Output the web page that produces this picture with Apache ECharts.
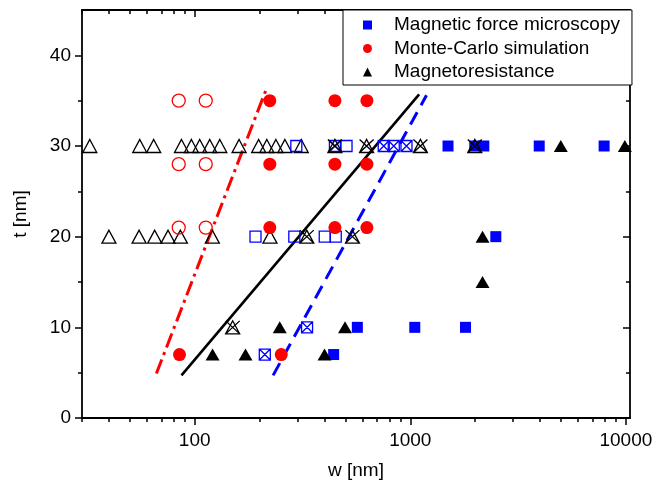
<!DOCTYPE html>
<html><head><meta charset="utf-8">
<script src="https://cdn.jsdelivr.net/npm/echarts@6/dist/echarts.min.js"></script>
<style>html,body{margin:0;padding:0;background:#fff}#c{width:665px;height:490px}</style>
</head><body><div id="c"></div>
<script>
const FONT = '"Liberation Sans", Arial, sans-serif';
const xMajorTicks = [100, 1000, 10000];
const xMinorTicks = [30,40,50,60,70,80,90,200,300,400,500,600,700,800,900,2000,3000,4000,5000,6000,7000,8000,9000];
const yMajorTicks = [0, 10, 20, 30, 40];
const yMinorTicks = [5, 15, 25, 35];

const seriesNames = ['Magnetic force microscopy', 'Monte-Carlo simulation', 'Magnetoresistance'];

const mfmFilled = [[1496,30],[1991,30],[2193,30],[3963,30],[7926,30],[2493,20],[568,10],[1049,10],[1803,10],[441,7]];
const mcFilled = [[223,35],[447,35],[629,35],[223,28],[447,28],[629,28],[223,21],[447,21],[629,21],[85,7],[252,7]];
const mrFilled = [[4990,30],[9890,30],[2163,20],[2163,15],[248,10],[498,10],[121,7],[172,7],[400,7]];
const mrOpen = [[32.6,30],[55.6,30],[64.5,30],[86.8,30],[96.5,30],[105.5,30],[117.4,30],[130.7,30],[160.6,30],[198,30],[216,30],[238,30],[262,30],[312,30],
                [40,20],[55.2,20],[65.2,20],[75.2,20],[85.8,20],[120.7,20],[223.4,20]];
const mcOpen = [[84.3,35],[112.5,35],[84.3,28],[112.5,28],[84.3,21],[112.5,21]];
const mfmOpen = [[296,30],[506,30],[191.4,20],[289.7,20],[401,20],[451,20]];
const mfmCrossed = [[447,30],[753,30],[838,30],[960,30],[332,10],[211.4,7]];
const mrCrossed = [[447,30],[627,30],[1114,30],[1991,30],[331,20],[539,20],[150,10]];
const fitMC = [[66.4,4.9],[215,36.3]];
const fitMR = [[86.8,4.7],[1099,35.7]];
const fitMFM = [[231,4.7],[1189,35.6]];

const X_MIN = 30, X_MAX = 10450, Y_MIN = 0, Y_MAX = 45;
const AX = '#000';
const lbl = { fontSize: 19, color: '#000', fontFamily: FONT };

function xAx(pos, ticks, len, inside, main) {
  return {
    type: 'log', logBase: 10, min: X_MIN, max: X_MAX, position: pos,
    axisLine: { show: !!main, onZero: false, lineStyle: { color: AX, width: 1.8 } },
    axisTick: { show: true, customValues: ticks, length: len, inside: inside, lineStyle: { color: AX, width: 1.5 } },
    axisLabel: (main && pos === 'bottom') ? { show: true, customValues: xMajorTicks, margin: 13, formatter: v => String(Math.round(v)), ...lbl } : { show: false },
    splitLine: { show: false }, minorTick: { show: false },
    ...(main && pos === 'bottom' ? { name: 'w [nm]', nameLocation: 'middle', nameGap: 43, nameTextStyle: lbl } : {})
  };
}
function yAx(pos, ticks, len, inside, main) {
  return {
    type: 'value', min: Y_MIN, max: Y_MAX, position: pos,
    axisLine: { show: !!main, onZero: false, lineStyle: { color: AX, width: 1.8 } },
    axisTick: { show: true, customValues: ticks, length: len, inside: inside, lineStyle: { color: AX, width: 1.5 } },
    axisLabel: (main && pos === 'left') ? { show: true, customValues: yMajorTicks, margin: 11, ...lbl } : { show: false },
    splitLine: { show: false }, minorTick: { show: false },
    ...(main && pos === 'left' ? { name: 't [nm]', nameLocation: 'middle', nameGap: 52, nameRotate: 90, nameTextStyle: lbl } : {})
  };
}

const crossSq = 'path://M0 0L10 0L10 10L0 10Z M0 0L10 10 M10 0L0 10';
const crossTri = 'path://M0 12L7 0L14 12Z M0 0L14 12 M14 0L0 12';

function sc(name, data, symbol, size, style, z) {
  const s = { type: 'scatter', data: data, symbol: symbol, symbolSize: size, itemStyle: Object.assign({ opacity: 1 }, style), z: z || 2, silent: true, animation: false };
  if (name) s.name = name;
  return s;
}
function ln(data, color, width, type) {
  return { type: 'line', data: data, showSymbol: false, symbol: 'none', lineStyle: { color: color, width: width, type: type }, z: 1, silent: true, animation: false };
}

const chart = echarts.init(document.getElementById('c'), null, { renderer: 'canvas' });
chart.setOption({
  animation: false,
  backgroundColor: '#fff',
  grid: { left: 82, right: 35, top: 10, bottom: 72, containLabel: false, outerBoundsMode: 'none' },
  xAxis: [
    xAx('bottom', xMajorTicks, 7, false, true),
    xAx('bottom', xMinorTicks, 4, false, false),
    xAx('top', xMajorTicks, 7, true, true),
    xAx('top', xMinorTicks, 4, true, false)
  ],
  yAxis: [
    yAx('left', yMajorTicks, 7, false, true),
    yAx('left', yMinorTicks, 4, false, false),
    yAx('right', yMajorTicks, 7, true, true),
    yAx('right', yMinorTicks, 4, true, false)
  ],
  legend: {
    data: [
      { name: seriesNames[0], icon: 'rect', itemStyle: { color: '#0000ff', opacity: 1 } },
      { name: seriesNames[1], icon: 'circle', itemStyle: { color: '#ff0000', opacity: 1 } },
      { name: seriesNames[2], icon: 'triangle', itemStyle: { color: '#000000', opacity: 1 } }
    ],
    orient: 'vertical', left: 343, top: 10,
    padding: [5, 12, 3, 20], itemGap: 3.5, itemWidth: 9, itemHeight: 9,
    borderColor: '#000', borderWidth: 1, backgroundColor: '#fff',
    textStyle: { fontSize: 19, color: '#000', fontFamily: FONT, lineHeight: 20, padding: [0, 0, 0, 17] },
    selectedMode: false
  },
  series: [
    ln(fitMC, '#ff0000', 3, [15, 5, 3, 5]),
    ln(fitMR, '#000000', 2.6, 'solid'),
    ln(fitMFM, '#0000ff', 3, [14, 8]),
    sc(null, mrOpen, 'triangle', [14, 13], { color: 'transparent', borderColor: '#000', borderWidth: 1.3 }),
    sc(null, mcOpen, 'circle', 13, { color: 'transparent', borderColor: '#ff0000', borderWidth: 1.3 }),
    sc(null, mfmOpen, 'rect', 11, { color: 'transparent', borderColor: '#0000ff', borderWidth: 1.3 }),
    sc(null, mfmCrossed, crossSq, 11, { color: 'transparent', borderColor: '#0000ff', borderWidth: 1.3 }),
    sc(seriesNames[0], mfmFilled, 'rect', 11, { color: '#0000ff' }, 3),
    sc(null, mrCrossed, crossTri, [14, 13], { color: 'transparent', borderColor: '#000', borderWidth: 1.3 }, 4),
    sc(seriesNames[1], mcFilled, 'circle', 13, { color: '#ff0000' }, 3),
    sc(seriesNames[2], mrFilled, 'triangle', [14, 12], { color: '#000000' }, 3)
  ]
});
</script>
</body></html>
